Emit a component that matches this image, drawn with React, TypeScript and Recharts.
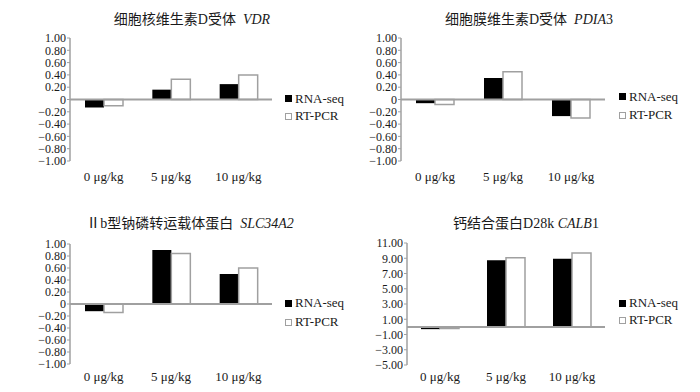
import React from 'react';
import { BarChart, Bar, XAxis, YAxis, ReferenceLine } from 'recharts';

const categories = ['0 μg/kg', '5 μg/kg', '10 μg/kg'];

const vdrRna = [-0.13, 0.16, 0.25];
const vdrPcr = [-0.1, 0.33, 0.4];
const pdiaRna = [-0.06, 0.35, -0.27];
const pdiaPcr = [-0.08, 0.45, -0.3];
const slcRna = [-0.12, 0.9, 0.5];
const slcPcr = [-0.14, 0.84, 0.6];
const calbRna = [-0.3, 8.75, 8.95];
const calbPcr = [-0.2, 9.05, 9.7];

const unitTicks = [-1, -0.8, -0.6, -0.4, -0.2, 0, 0.2, 0.4, 0.6, 0.8, 1];
const calbTicks = [-5, -3, -1, 1, 3, 5, 7, 9, 11];

const FONT = '"Liberation Serif", "Times New Roman", "Noto Sans CJK SC", serif';
const GRAY = '#a0a0a0';
const INK = '#1a1a1a';

const fmt = (v: number) => (v === 0 ? '0' : (v < 0 ? '−' : '') + Math.abs(v).toFixed(2));

const build = (rna: number[], pcr: number[]) =>
    categories.map((c, i) => ({ name: c, rna: rna[i], pcr: pcr[i] }));

interface PanelProps {
    left: number;
    top: number;
    margin: { top: number; right: number; bottom: number; left: number };
    data: any[];
    domain: [number, number];
    ticks: number[];
    labelGap: number;
    title: React.ReactNode;
    titleX: number;
    titleY: number;
    legendX: number;
    legendY: [number, number];
}

function Panel(p: PanelProps) {
    return (
        <>
            <div style={{ position: 'absolute', left: p.left, top: p.top }}>
                <BarChart width={350} height={196} data={p.data} margin={p.margin} barGap={0}>
                    <XAxis
                        dataKey="name"
                        axisLine={false}
                        tickLine={false}
                        tickSize={0}
                        tickMargin={p.labelGap}
                        height={20}
                        interval={0}
                        tick={{ fill: INK, fontSize: 13, fontFamily: FONT }}
                    />
                    <YAxis
                        width={45}
                        domain={p.domain}
                        ticks={p.ticks}
                        interval={0}
                        tickFormatter={fmt}
                        axisLine={{ stroke: GRAY, strokeWidth: 1.5 }}
                        tickLine={{ stroke: GRAY }}
                        tickSize={3}
                        tickMargin={1}
                        tick={{ fill: INK, fontSize: 12, fontFamily: FONT }}
                    />
                    <Bar dataKey="rna" fill="#000" barSize={19} isAnimationActive={false} />
                    <Bar dataKey="pcr" fill="#fff" stroke={GRAY} strokeWidth={1.5} barSize={19} isAnimationActive={false} />
                    <ReferenceLine y={0} stroke={GRAY} strokeWidth={2} />
                </BarChart>
            </div>
            <div
                style={{
                    position: 'absolute',
                    left: p.titleX,
                    top: p.titleY,
                    transform: 'translate(-50%, -50%)',
                    whiteSpace: 'nowrap',
                    fontFamily: FONT,
                    fontSize: 14,
                    color: INK,
                }}
            >
                {p.title}
            </div>
            {[
                { label: 'RNA-seq', fill: '#000', border: '#000' },
                { label: 'RT-PCR', fill: '#fff', border: GRAY },
            ].map((item, i) => (
                <div
                    key={item.label}
                    style={{
                        position: 'absolute',
                        left: p.legendX,
                        top: p.legendY[i],
                        transform: 'translateY(-50%)',
                        display: 'flex',
                        alignItems: 'center',
                        fontFamily: FONT,
                        fontSize: 13,
                        color: INK,
                        whiteSpace: 'nowrap',
                    }}
                >
                    <span
                        style={{
                            display: 'inline-block',
                            width: 5,
                            height: 5,
                            background: item.fill,
                            border: `1px solid ${item.border}`,
                            marginRight: 3,
                        }}
                    />
                    {item.label}
                </div>
            ))}
        </>
    );
}

export default function App() {
    return (
        <div style={{ position: 'absolute', left: 0, top: 0, width: 700, height: 392, background: '#fff', overflow: 'hidden' }}>
            <Panel
                left={0}
                top={0}
                margin={{ top: 38, right: 78, bottom: 15, left: 25 }}
                data={build(vdrRna, vdrPcr)}
                domain={[-1, 1]}
                ticks={unitTicks}
                labelGap={11}
                title={<>细胞核维生素D受体&nbsp;&nbsp;<i>VDR</i></>}
                titleX={192}
                titleY={18}
                legendX={285}
                legendY={[98.7, 116]}
            />
            <Panel
                left={350}
                top={0}
                margin={{ top: 38, right: 95, bottom: 15, left: 6 }}
                data={build(pdiaRna, pdiaPcr)}
                domain={[-1, 1]}
                ticks={unitTicks}
                labelGap={11}
                title={<>细胞膜维生素D受体&nbsp;&nbsp;<i>PDIA</i>3</>}
                titleX={529}
                titleY={18}
                legendX={619}
                legendY={[96.7, 115]}
            />
            <Panel
                left={0}
                top={196}
                margin={{ top: 48, right: 78, bottom: 8, left: 25 }}
                data={build(slcRna, slcPcr)}
                domain={[-1, 1]}
                ticks={unitTicks}
                labelGap={8}
                title={<>Ⅱb型钠磷转运载体蛋白&nbsp;&nbsp;<i>SLC34A2</i></>}
                titleX={190}
                titleY={221.5}
                legendX={285}
                legendY={[303.3, 322]}
            />
            <Panel
                left={350}
                top={196}
                margin={{ top: 47, right: 95, bottom: 7, left: 12 }}
                data={build(calbRna, calbPcr)}
                domain={[-5, 11]}
                ticks={calbTicks}
                labelGap={7}
                title={<>钙结合蛋白D28k <i>CALB</i>1</>}
                titleX={526}
                titleY={222}
                legendX={619}
                legendY={[303.3, 320]}
            />
        </div>
    );
}
